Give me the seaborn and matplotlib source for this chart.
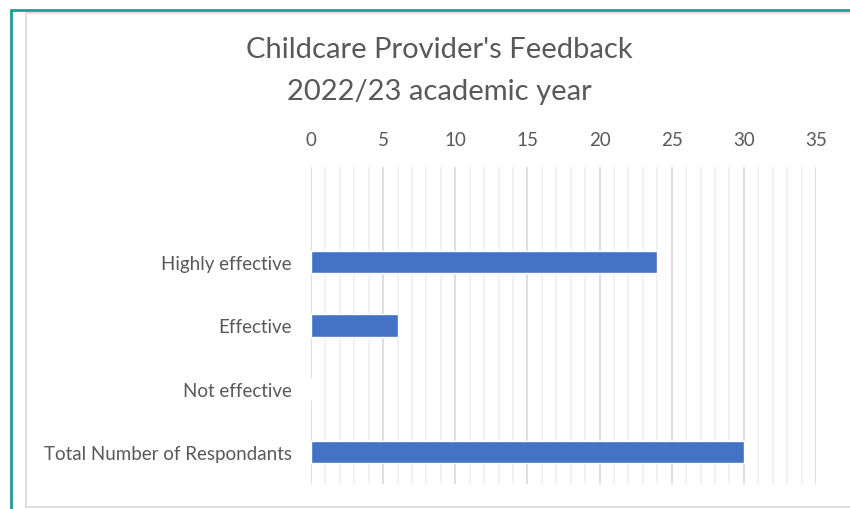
import matplotlib
matplotlib.use("Agg")
import matplotlib.pyplot as plt
from matplotlib.lines import Line2D
from matplotlib.ticker import MultipleLocator
import seaborn as sns
import pandas as pd

categories = ["Highly effective", "Effective", "Not effective", "Total Number of Respondants"]
responses = [24, 6, 0, 30]
x_ticks = [0, 5, 10, 15, 20, 25, 30, 35]
title_lines = ["Childcare Provider's Feedback", "2022/23 academic year"]

sns.set_theme(style="white")
plt.rcParams["font.family"] = ["Lato", "DejaVu Sans"]

W, H = 850, 510
fig = plt.figure(figsize=(W / 100, H / 100), dpi=100)
fig.patch.set_facecolor("white")

def fx(px):
    return px / W

def fy(py):
    return 1 - py / H

ax = fig.add_axes([fx(311), fy(485), fx(816) - fx(311), fy(168) - fy(485)])

df = pd.DataFrame({"category": categories, "responses": responses})
sns.barplot(data=df, x="responses", y="category", order=categories,
            color="#4472C4", saturation=1, width=0.35, ax=ax, zorder=3)

ax.set_xlim(0, 35)
ax.set_ylim(len(categories) - 0.5, -1.5)
ax.set_xticks(x_ticks)
ax.xaxis.set_minor_locator(MultipleLocator(1))
ax.xaxis.tick_top()
ax.tick_params(axis="x", which="both", length=0, pad=14, labelsize=13.5, labelcolor="#595959")
ax.tick_params(axis="y", length=0, pad=14, labelsize=13.5, labelcolor="#595959")
ax.grid(axis="x", which="major", color="#d9d9d9", linewidth=1.2, zorder=0)
ax.grid(axis="x", which="minor", color="#f0f0f0", linewidth=1.2, zorder=0)
ax.grid(axis="y", visible=False)
ax.set_axisbelow(True)
for s in ax.spines.values():
    s.set_visible(False)
ax.set_xlabel("")
ax.set_ylabel("")

fig.text(fx(439), fy(50), title_lines[0], ha="center", va="center",
         fontsize=21, color="#595959")
fig.text(fx(439), fy(92), title_lines[1], ha="center", va="center",
         fontsize=21, color="#595959")

# chart area border
grey = "#d9d9d9"
fig.add_artist(Line2D([fx(26), 1], [fy(14), fy(14)], color=grey, lw=1.2))
fig.add_artist(Line2D([fx(26), fx(26)], [fy(14), fy(508)], color=grey, lw=1.2))
fig.add_artist(Line2D([fx(26), 1], [fy(508), fy(508)], color=grey, lw=1.2))

# outer teal frame
teal = "#17a09a"
fig.add_artist(Line2D([fx(11), 1], [fy(11), fy(11)], color=teal, lw=2))
fig.add_artist(Line2D([fx(11), fx(11)], [fy(11), 0], color=teal, lw=2))

fig.savefig("out.png", dpi=100, facecolor="white")
